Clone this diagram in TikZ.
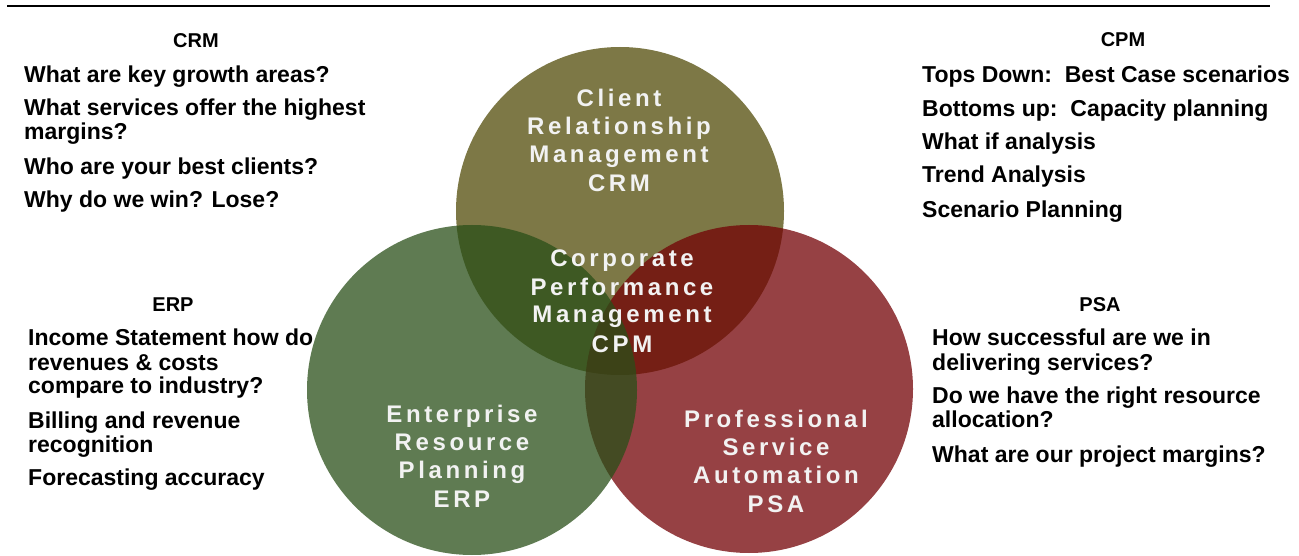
\documentclass[tikz,border=0pt]{standalone}
\usepackage{fontspec}
\setmainfont{Liberation Sans}
\newfontfamily\circfont[LetterSpace=15]{Liberation Sans Bold}
\definecolor{crmc}{RGB}{81,75,8}
\definecolor{erpc}{RGB}{41,79,24}
\definecolor{psac}{RGB}{115,2,5}
\definecolor{ctext}{RGB}{242,242,242}
\tikzset{
  venn/.style={circle, inner sep=0pt, draw=none, fill opacity=0.75},
  ttl/.style={anchor=base, inner sep=0pt, font=\fontsize{20}{22}\selectfont\bfseries},
  item/.style={anchor=base west, inner sep=0pt, font=\fontsize{23}{24}\selectfont\bfseries},
  ctx/.style={anchor=base, inner sep=0pt, text=ctext, font=\circfont\fontsize{24}{24}\selectfont},
}
\begin{document}
\begin{tikzpicture}[x=1pt,y=-1pt]
\useasboundingbox (0,0) rectangle (1299,556);
\coordinate (lineL) at (7,6);
\coordinate (lineR) at (1270,6);
\draw[line width=2.5pt] (lineL) -- (lineR);
% circles
\node[venn, fill=crmc, minimum size=328pt] (crm) at (620,211) {};
\node[venn, fill=psac, minimum size=328pt] (psa) at (749,389) {};
\node[venn, fill=erpc, minimum size=330pt] (erp) at (472,390) {};
% circle texts
\node[ctx] (t1) at (619,107) {Client};
\node[ctx] (t2) at (619,135) {Relationship};
\node[ctx] (t3) at (619,163) {Management};
\node[ctx] (t4) at (619,192) {CRM};
\node[ctx] (c1) at (622,267) {Corporate};
\node[ctx] (c2) at (622,295) {Performance};
\node[ctx] (c3) at (622,323) {Management};
\node[ctx] (c4) at (622,352) {CPM};
\node[ctx] (e1) at (462,422) {Enterprise};
\node[ctx] (e2) at (462,450) {Resource};
\node[ctx] (e3) at (462,478) {Planning};
\node[ctx] (e4) at (462,507) {ERP};
\node[ctx] (p1) at (776,427) {Professional};
\node[ctx] (p2) at (776,455) {Service};
\node[ctx] (p3) at (776,483) {Automation};
\node[ctx] (p4) at (776,512) {PSA};
% CRM block
\node[ttl] (crmh) at (196,48) {CRM};
\node[item] (crm1) at (24,83) {What are key growth areas?};
\node[item] (crm2) at (24,116) {What services offer the highest};
\node[item] (crm2b) at (24,140) {margins?};
\node[item] (crm3) at (24,175) {Who are your best clients?};
\node[item] (crm4) at (24,208) {Why do we win? Lose?};
% CPM block
\node[ttl] (cpmh) at (1123,47) {CPM};
\node[item] (cpm1) at (922,83) {Tops Down:\ \ Best Case scenarios};
\node[item] (cpm2) at (922,117) {Bottoms up:\ \ Capacity planning};
\node[item] (cpm3) at (922,150) {What if analysis};
\node[item] (cpm4) at (922,183) {Trend Analysis};
\node[item] (cpm5) at (922,218) {Scenario Planning};
% ERP block
\node[ttl] (erph) at (173,312) {ERP};
\node[item] (erp1) at (28,345) {Income Statement how do};
\node[item] (erp1b) at (28,370) {revenues \& costs};
\node[item] (erp1c) at (28,393) {compare to industry?};
\node[item] (erp2) at (28,428) {Billing and revenue};
\node[item] (erp2b) at (28,452) {recognition};
\node[item] (erp3) at (28,485) {Forecasting accuracy};
% PSA block
\node[ttl] (psah) at (1100,312) {PSA};
\node[item] (psa1) at (932,345) {How successful are we in};
\node[item] (psa1b) at (932,370) {delivering services?};
\node[item] (psa2) at (932,403) {Do we have the right resource};
\node[item] (psa2b) at (932,427) {allocation?};
\node[item] (psa3) at (932,462) {What are our project margins?};
\end{tikzpicture}
\end{document}
